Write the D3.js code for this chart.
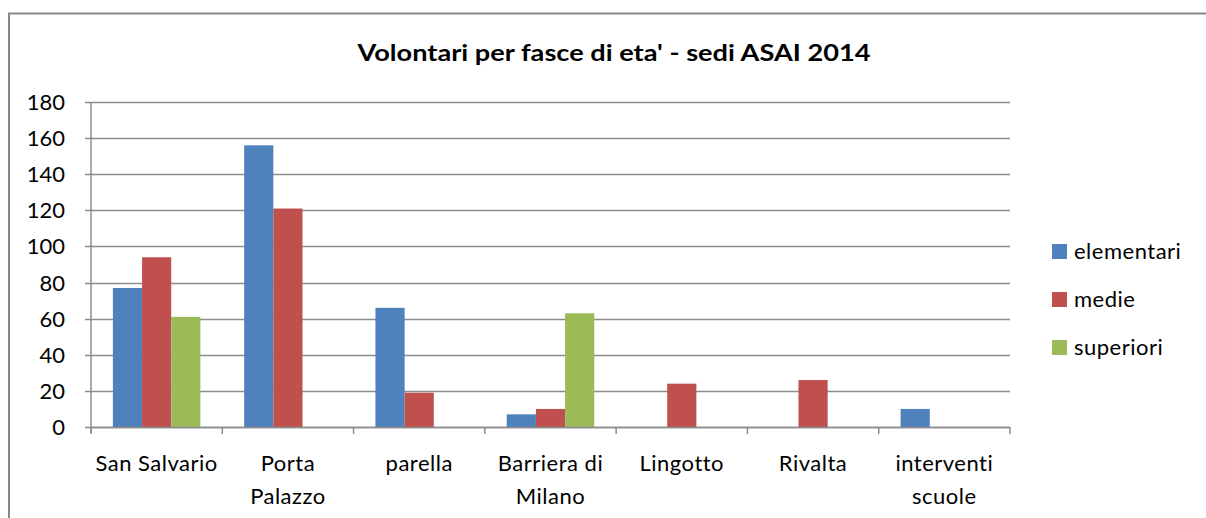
<!DOCTYPE html>
<html>
<head>
<meta charset="utf-8">
<script src="https://cdn.jsdelivr.net/npm/d3@7"></script>
<style>
  body { margin: 0; background: #fff; }
  text { font-family: Lato, "Open Sans", sans-serif; fill: #000; }
</style>
</head>
<body>
<div id="vis"></div>
<script>
// chart data
var sedi = ["San Salvario", "Porta Palazzo", "parella", "Barriera di Milano", "Lingotto", "Rivalta", "interventi scuole"];
var fasce = ["elementari", "medie", "superiori"];
var elementari = [77, 156, 66, 7, 0, 0, 10];
var medie = [94, 121, 19, 10, 24, 26, 0];
var superiori = [61, 0, 0, 63, 0, 0, 0];
var yTicks = [0, 20, 40, 60, 80, 100, 120, 140, 160, 180];
var colori = ["#4F81BD", "#C0504D", "#9BBB59"];

var serie = [elementari, medie, superiori];

var width = 1206, height = 518;
var plotLeft = 91, plotRight = 1010, plotTop = 102, plotBottom = 427;

var svg = d3.select("#vis")
    .append("svg")
    .attr("width", width)
    .attr("height", height);

// chart area border (goes off the right / bottom of the picture)
svg.append("path")
    .attr("d", "M9,518 V13.5 H1206")
    .attr("fill", "none")
    .attr("stroke", "#878787")
    .attr("stroke-width", 2);

svg.append("text")
    .attr("x", 614)
    .attr("y", 61)
    .attr("text-anchor", "middle")
    .attr("font-size", 22)
    .attr("font-weight", "bold")
    .attr("textLength", 513)
    .attr("lengthAdjust", "spacingAndGlyphs")
    .text("Volontari per fasce di eta' - sedi ASAI 2014");

var x = d3.scaleBand().domain(sedi).range([plotLeft, plotRight]).paddingInner(0).paddingOuter(0);
// Excel gap width 150%: 3 bars + 1.5 bar gap in each category
var x1 = d3.scaleBand().domain(fasce).range([0, x.bandwidth()]).paddingInner(0).paddingOuter(0.75);
var y = d3.scaleLinear().domain([0, 180]).range([plotBottom, plotTop]);

// gridlines
svg.append("g")
    .selectAll("line")
    .data(yTicks)
    .enter()
    .append("line")
    .attr("x1", plotLeft - 6)
    .attr("x2", plotRight)
    .attr("y1", function(d) { return Math.round(y(d)) + 0.5; })
    .attr("y2", function(d) { return Math.round(y(d)) + 0.5; })
    .attr("stroke", "#8c8c8c")
    .attr("stroke-width", 1.5);

// y labels
svg.append("g")
    .selectAll("text")
    .data(yTicks)
    .enter()
    .append("text")
    .attr("x", 65)
    .attr("y", function(d) { return y(d) + 8; })
    .attr("text-anchor", "end")
    .attr("font-size", 22)
    .text(function(d) { return d; });

// bars
fasce.forEach(function(f, k) {
    svg.append("g")
        .selectAll("rect")
        .data(serie[k])
        .enter()
        .append("rect")
        .attr("x", function(d, i) { return x(sedi[i]) + x1(f); })
        .attr("y", function(d) { return y(d); })
        .attr("width", x1.bandwidth())
        .attr("height", function(d) { return plotBottom - y(d); })
        .attr("fill", colori[k])
        .attr("display", function(d) { return d > 0 ? null : "none"; });
});

// axes lines
svg.append("line")
    .attr("x1", plotLeft).attr("x2", plotLeft)
    .attr("y1", plotTop).attr("y2", plotBottom + 6)
    .attr("stroke", "#8c8c8c").attr("stroke-width", 1.5);
svg.append("line")
    .attr("x1", plotLeft).attr("x2", plotRight)
    .attr("y1", plotBottom + 0.5).attr("y2", plotBottom + 0.5)
    .attr("stroke", "#8c8c8c").attr("stroke-width", 1.5);

var xTicks = sedi.map(function(s) { return x(s); }).concat([plotRight]);
svg.append("g")
    .selectAll("line")
    .data(xTicks)
    .enter()
    .append("line")
    .attr("x1", function(d) { return d; })
    .attr("x2", function(d) { return d; })
    .attr("y1", plotBottom)
    .attr("y2", plotBottom + 7)
    .attr("stroke", "#8c8c8c")
    .attr("stroke-width", 1.5);

// category labels, wrapped like the original
var righe = {
    "San Salvario": ["San Salvario"],
    "Porta Palazzo": ["Porta", "Palazzo"],
    "parella": ["parella"],
    "Barriera di Milano": ["Barriera di", "Milano"],
    "Lingotto": ["Lingotto"],
    "Rivalta": ["Rivalta"],
    "interventi scuole": ["interventi", "scuole"]
};
sedi.forEach(function(s) {
    var t = svg.append("text")
        .attr("x", x(s) + x.bandwidth() / 2)
        .attr("y", 471)
        .attr("text-anchor", "middle")
        .attr("font-size", 22)
        .attr("letter-spacing", 0.5);
    righe[s].forEach(function(r, j) {
        t.append("tspan")
            .attr("x", x(s) + x.bandwidth() / 2)
            .attr("dy", j === 0 ? 0 : 33)
            .text(r);
    });
});

// legend
var legend = svg.append("g")
    .selectAll("g")
    .data(fasce)
    .enter()
    .append("g")
    .attr("transform", function(d, i) { return "translate(1052," + (244 + i * 48) + ")"; });
legend.append("rect")
    .attr("width", 15)
    .attr("height", 15)
    .attr("fill", function(d, i) { return colori[i]; });
legend.append("text")
    .attr("x", 22)
    .attr("y", 15)
    .attr("font-size", 22)
    .attr("letter-spacing", 0.5)
    .text(function(d) { return d; });
</script>
</body>
</html>
